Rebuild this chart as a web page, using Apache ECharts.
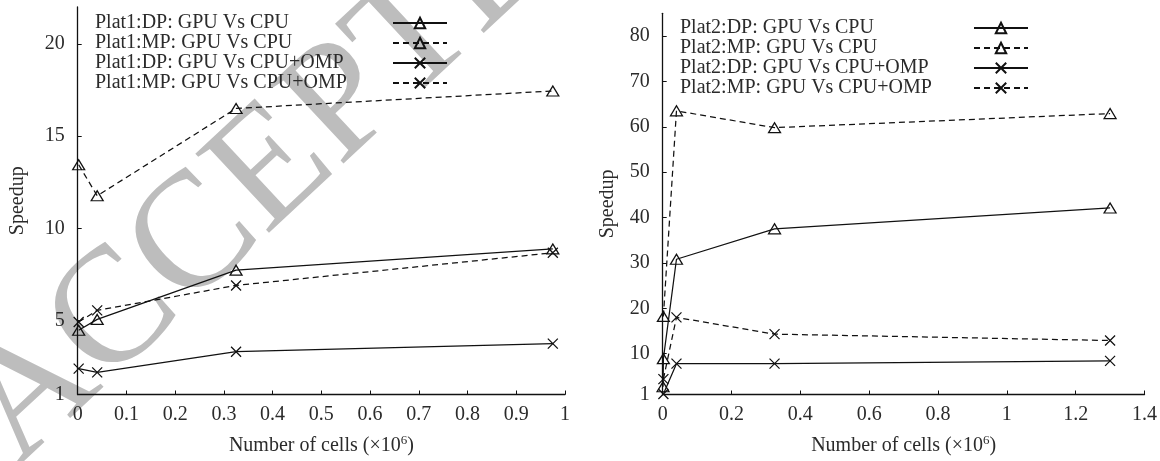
<!DOCTYPE html>
<html>
<head>
<meta charset="utf-8">
<script src="https://cdn.jsdelivr.net/npm/echarts@6/dist/echarts.min.js"></script>
<style>
  html, body { margin: 0; padding: 0; background: #fff; }
  #chart { width: 1160px; height: 461px; }
</style>
</head>
<body>
<div id="chart"></div>
<script>
// Platform 1: mesh sizes (millions of cells) and speedups
const plat1Cells = [0.002, 0.04, 0.325, 0.975];
const plat1DpCpu = [4.48, 5.07, 7.74, 8.89];
const plat1MpCpu = [13.45, 11.77, 16.5, 17.45];
const plat1DpOmp = [2.4, 2.2, 3.32, 3.76];
const plat1MpOmp = [4.93, 5.56, 6.91, 8.68];

// Platform 2: mesh sizes (millions of cells) and speedups
const plat2Cells = [0.002, 0.04, 0.325, 1.3];
const plat2DpCpuCells = [0.001, 0.002, 0.04, 0.325, 1.3];
const plat2DpCpu = [2.7, 8.9, 30.8, 37.5, 42.1];
const plat2MpCpu = [18.2, 63.5, 59.8, 62.9];
const plat2DpOmp = [1.1, 7.8, 7.8, 8.4];
const plat2MpOmp = [4.4, 18.0, 14.3, 12.9];

// Tick values
const plat1YTicks = [1, 5, 10, 15, 20];
const plat2YTicks = [1, 10, 20, 30, 40, 50, 60, 70, 80];

const names1 = ['Plat1:DP: GPU Vs CPU', 'Plat1:MP: GPU Vs CPU', 'Plat1:DP: GPU Vs CPU+OMP', 'Plat1:MP: GPU Vs CPU+OMP'];
const names2 = ['Plat2:DP: GPU Vs CPU', 'Plat2:MP: GPU Vs CPU', 'Plat2:DP: GPU Vs CPU+OMP', 'Plat2:MP: GPU Vs CPU+OMP'];

const FONT = 'Liberation Serif';
const FS = 20;
const INK = '#111';
const TEXT = '#2b2b2b';
const TRI = 'path://M5,0L10,8.66L0,8.66Z';
const CROSS = 'path://M0,0L10,10M10,0L0,10';

function pairs(xs, ys) { return xs.map((x, i) => [x, ys[i]]); }

function lineSeries(name, data, dashed, symbol, axisIndex) {
  const isCross = symbol === CROSS;
  return {
    name, type: 'line', data,
    xAxisIndex: axisIndex, yAxisIndex: axisIndex,
    symbol, symbolSize: isCross ? [10, 10] : [12, 10],
    showAllSymbol: true,
    z: 3,
    lineStyle: { color: INK, width: 1.25, type: dashed ? [6, 4] : 'solid' },
    itemStyle: { color: 'rgba(0,0,0,0)', borderColor: INK, borderWidth: 1.25 },
    emphasis: { disabled: true },
    animation: false
  };
}

function xAxisCfg(grid, max, interval) {
  return {
    type: 'value', gridIndex: grid, min: 0, max, interval,
    axisLine: { lineStyle: { color: INK, width: 1.3 } },
    axisTick: { inside: true, length: 4, lineStyle: { color: INK, width: 1 } },
    axisLabel: { color: TEXT, fontFamily: FONT, fontSize: FS, margin: 10,
      formatter: v => String(Math.round(v * 10) / 10) },
    splitLine: { show: false },
    name: '{a|Number of cells (×10}{s|6}{a|)}',
    nameLocation: 'middle', nameGap: 40,
    nameTextStyle: {
      rich: {
        a: { fontFamily: FONT, fontSize: FS, color: TEXT, lineHeight: 23 },
        s: { fontFamily: FONT, fontSize: 13, color: TEXT, verticalAlign: 'top', lineHeight: 23 }
      }
    }
  };
}

function yAxisCfg(grid, max, ticks, gap) {
  return {
    type: 'value', gridIndex: grid, min: 1, max,
    axisLine: { show: true, lineStyle: { color: INK, width: 1.3 } },
    axisTick: { show: true, inside: true, length: 4, customValues: ticks, lineStyle: { color: INK, width: 1 } },
    axisLabel: { color: TEXT, fontFamily: FONT, fontSize: FS, margin: 13, customValues: ticks },
    splitLine: { show: false },
    name: 'Speedup', nameLocation: 'middle', nameGap: gap, nameRotate: 90,
    nameTextStyle: { fontFamily: FONT, fontSize: FS, color: TEXT }
  };
}

// Vertical legend: name on the left, line sample in a column on the right
function legendCfg(names, left, top, textWidth) {
  return {
    data: names, orient: 'vertical', align: 'right', left, top,
    itemWidth: 54, itemHeight: 13, itemGap: 0,
    selectedMode: false,
    formatter: n => '{n|' + n + '}',
    textStyle: {
      rich: { n: { fontFamily: FONT, fontSize: FS, color: TEXT, width: textWidth, align: 'left', lineHeight: 20 } }
    }
  };
}

const chart = echarts.init(document.getElementById('chart'), null, { renderer: 'canvas' });
chart.setOption({
  backgroundColor: '#fff',
  animation: false,
  graphic: [{
    type: 'text', x: 44, y: 496, rotation: 0.75, z: 0, silent: true,
    style: { text: 'ACCEPTED MANUSCRIPT', font: '165px "Liberation Serif"', fill: '#bdbdbd',
      textAlign: 'left', textVerticalAlign: 'bottom' }
  }],
  grid: [
    { left: 77.7, top: 7, width: 487.3, height: 389 },
    { left: 662.7, top: 13.3, width: 483, height: 384 }
  ],
  xAxis: [xAxisCfg(0, 1, 0.1), xAxisCfg(1, 1.4, 0.2)],
  yAxis: [yAxisCfg(0, 22, plat1YTicks, 50), yAxisCfg(1, 85, plat2YTicks, 45)],
  legend: [legendCfg(names1, 90, 8, 293), legendCfg(names2, 675, 13, 289)],
  series: [
    lineSeries(names1[0], pairs(plat1Cells, plat1DpCpu), false, TRI, 0),
    lineSeries(names1[1], pairs(plat1Cells, plat1MpCpu), true, TRI, 0),
    lineSeries(names1[2], pairs(plat1Cells, plat1DpOmp), false, CROSS, 0),
    lineSeries(names1[3], pairs(plat1Cells, plat1MpOmp), true, CROSS, 0),
    lineSeries(names2[0], pairs(plat2DpCpuCells, plat2DpCpu), false, TRI, 1),
    lineSeries(names2[1], pairs(plat2Cells, plat2MpCpu), true, TRI, 1),
    lineSeries(names2[2], pairs(plat2Cells, plat2DpOmp), false, CROSS, 1),
    lineSeries(names2[3], pairs(plat2Cells, plat2MpOmp), true, CROSS, 1)
  ]
});
</script>
</body>
</html>
